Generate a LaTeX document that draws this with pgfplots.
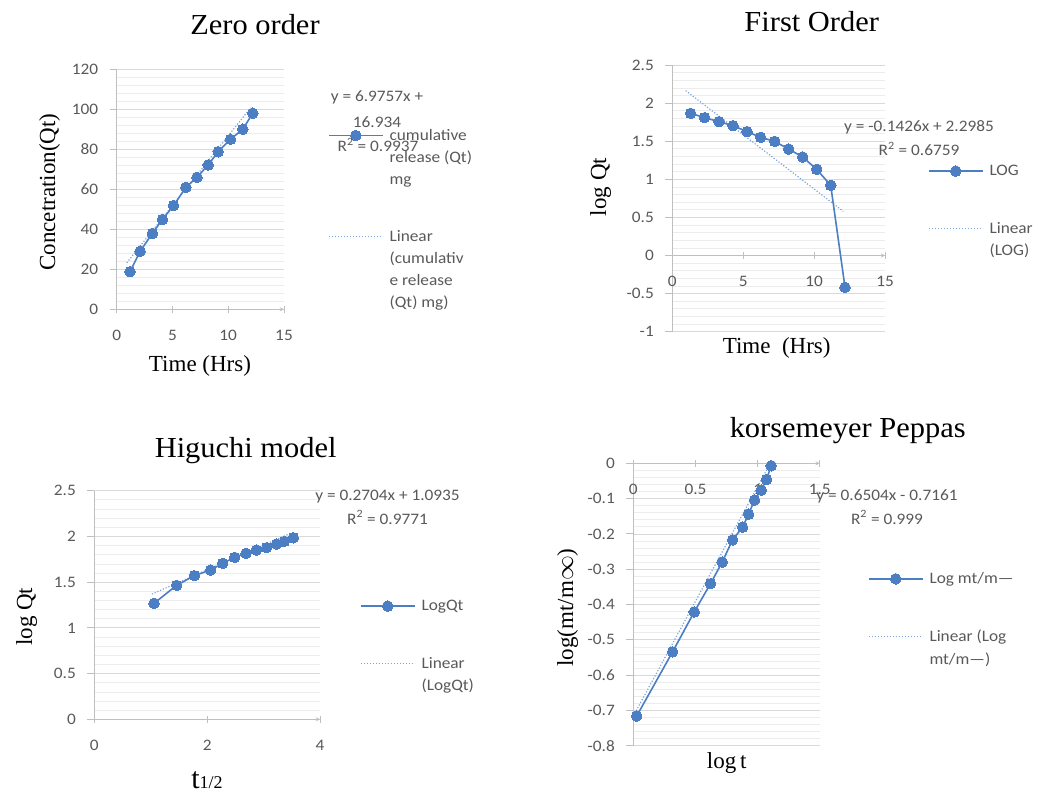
\documentclass[border=0pt]{standalone}
\usepackage{pgfplots}
\pgfplotsset{compat=1.18}
\usepackage{fontspec}
\setmainfont{Liberation Serif}
\newfontfamily\calfont{Carlito}[FakeStretch=1.08]
\newfontfamily\titlefont{Liberation Serif}[FakeStretch=1.05]
\definecolor{sercol}{RGB}{76,126,196}
\definecolor{trendcol}{RGB}{125,165,220}
\definecolor{tickgray}{RGB}{89,89,89}
\definecolor{axisgray}{RGB}{191,191,191}
\definecolor{gridmaj}{RGB}{217,217,217}
\definecolor{gridmin}{RGB}{236,236,236}
\newcommand{\tickfont}{\calfont\fontsize{16}{18}\selectfont}
\newcommand{\ls}{\rule[-4pt]{0pt}{15pt}}
\newcommand{\gap}{\rule{0pt}{25.5pt}}
\tikzset{
  serstyle/.style={draw=sercol, line width=1.6pt, mark=*, mark size=5.3pt,
     mark options={fill=sercol, draw=sercol, line width=0pt, solid}},
  trendstyle/.style={draw=trendcol, line width=1.2pt, dash pattern=on 1.2pt off 1.8pt, mark=none},
}
\pgfplotsset{
 excel/.style={
  scale only axis, clip=false,
  axis y line=left,
  axis line style={draw=axisgray, line width=0.9pt, -},
  ymajorgrids, yminorgrids, minor y tick num=4,
  major grid style={draw=gridmaj, line width=0.8pt},
  minor grid style={draw=gridmin, line width=0.7pt},
  tick align=outside, major tick length=7pt, minor tick length=0pt,
  tick style={draw=axisgray, line width=0.9pt},
  tick label style={font=\tickfont, text=tickgray},
  xticklabel style={yshift=-14pt},
  yticklabel style={xshift=-8pt},
  /pgf/number format/assume math mode=true,
  hide obscured x ticks=false, hide obscured y ticks=false,
  legend style={draw=none, fill=none, inner sep=0pt, outer sep=0pt, anchor=north west,
     font=\tickfont, text=tickgray, row sep=9pt, column sep=6pt,
     nodes={inner sep=0pt, outer sep=0pt}},
  legend cell align=left,
  legend image code/.code={\draw[mark repeat=2,mark phase=2,##1] plot coordinates {(0pt,0pt)(27pt,0pt)(54pt,0pt)};},
 },
}
\begin{document}
\begin{tikzpicture}
\path[use as bounding box] (0,0) rectangle (1038pt,796pt);
% ---------------- Zero order
\begin{axis}[excel, at={(116.7pt,486.7pt)}, anchor=south west,
  width=167.3pt, height=240.3pt,
  axis x line=bottom,
  xmin=0, xmax=15, ymin=0, ymax=120,
  xtick={0,5,10,15}, ytick={0,20,40,60,80,100,120},
  legend style={at={(1.263,0.7495)}}]
\addplot[trendstyle, forget plot] coordinates {(0.9,23.2) (12.0,100.6)};
\addplot[serstyle, forget plot] coordinates {(1.2,18.8)(2.1,29.0)(3.2,37.9)(4.1,44.9)(5.1,51.8)(6.2,60.9)(7.2,65.9)(8.2,72.1)(9.1,78.7)(10.2,84.9)(11.3,89.9)(12.2,97.9)};
\addlegendimage{serstyle}\addlegendentry{\ls cumulative}
\addlegendimage{empty legend}\addlegendentry{\ls release (Qt)}
\addlegendimage{empty legend}\addlegendentry{\ls mg}
\addlegendimage{empty legend}\addlegendentry{\gap}
\addlegendimage{trendstyle}\addlegendentry{\ls Linear}
\addlegendimage{empty legend}\addlegendentry{\ls (cumulativ}
\addlegendimage{empty legend}\addlegendentry{\ls e release}
\addlegendimage{empty legend}\addlegendentry{\ls (Qt) mg)}
\end{axis}
% ---------------- First order
\begin{axis}[excel, at={(672.3pt,464.3pt)}, anchor=south west,
  width=212.7pt, height=266.7pt,
  axis x line=middle,
  xmin=0, xmax=15, ymin=-1, ymax=2.5,
  xtick={0,5,10,15}, ytick={-1,-0.5,0,0.5,1,1.5,2,2.5},
  yticklabels={-1,-0.5,0,0.5,1,1.5,2,2.5},
  legend style={at={(1.202,0.6258)}}]
\addplot[trendstyle, forget plot] coordinates {(0.94,2.164) (12.06,0.579)};
\addplot[serstyle, forget plot] coordinates {(1.29,1.866)(2.28,1.809)(3.29,1.756)(4.28,1.704)(5.27,1.625)(6.23,1.551)(7.22,1.498)(8.2,1.397)(9.19,1.293)(10.18,1.131)(11.17,0.921)(12.18,-0.418)};
\addlegendimage{serstyle}\addlegendentry{\ls LOG}
\addlegendimage{empty legend}\addlegendentry{\gap}
\addlegendimage{trendstyle}\addlegendentry{\ls Linear}
\addlegendimage{empty legend}\addlegendentry{\ls (LOG)}
\end{axis}
% ---------------- Higuchi
\begin{axis}[excel, at={(94.3pt,76.7pt)}, anchor=south west,
  width=225.7pt, height=228.6pt,
  axis x line=bottom,
  xmin=0, xmax=4, ymin=0, ymax=2.5,
  xtick={0,2,4}, ytick={0,0.5,1,1.5,2,2.5},
  yticklabels={0,0.5,1,1.5,2,2.5},
  legend style={at={(1.177,0.5227)}}]
\addplot[trendstyle, forget plot] coordinates {(1.02,1.369) (3.46,2.029)};
\addplot[serstyle, forget plot] coordinates {(1.058,1.268)(1.459,1.465)(1.773,1.571)(2.062,1.633)(2.275,1.706)(2.487,1.771)(2.688,1.815)(2.871,1.851)(3.054,1.877)(3.232,1.917)(3.368,1.946)(3.527,1.986)};
\addlegendimage{serstyle}\addlegendentry{\ls LogQt}
\addlegendimage{empty legend}\addlegendentry{\gap}
\addlegendimage{trendstyle}\addlegendentry{\ls Linear}
\addlegendimage{empty legend}\addlegendentry{\ls (LogQt)}
\end{axis}
% ---------------- Korsmeyer Peppas
\begin{axis}[excel, at={(633.3pt,50.3pt)}, anchor=south west,
  width=186.5pt, height=282.4pt,
  axis x line=middle,
  xmin=0, xmax=1.5, ymin=-0.8, ymax=0,
  xtick={0,0.5,1,1.5}, xticklabels={0,0.5,1,1.5},
  ytick={-0.8,-0.7,-0.6,-0.5,-0.4,-0.3,-0.2,-0.1,0},
  yticklabels={-0.8,-0.7,-0.6,-0.5,-0.4,-0.3,-0.2,-0.1,0},
  legend style={at={(1.258,0.6133)}}]
\addplot[trendstyle, forget plot] coordinates {(0.0,-0.716) (1.079,-0.0143)};
\addplot[serstyle, forget plot] coordinates {(0.027,-0.716)(0.316,-0.534)(0.49,-0.421)(0.621,-0.341)(0.715,-0.280)(0.798,-0.217)(0.879,-0.181)(0.927,-0.144)(0.975,-0.104)(1.029,-0.076)(1.071,-0.046)(1.109,-0.007)};
\addlegendimage{serstyle}\addlegendentry{\ls Log mt/m—}
\addlegendimage{empty legend}\addlegendentry{\gap}
\addlegendimage{trendstyle}\addlegendentry{\ls Linear (Log}
\addlegendimage{empty legend}\addlegendentry{\ls mt/m—)}
\end{axis}
% ---------------- texts (pixel coordinates, y downwards)
\begin{scope}[x=1pt, y=-1pt, shift={(0pt,796pt)}]
\tikzset{ttl/.style={anchor=base, inner sep=0pt, font=\titlefont\fontsize{29}{30}\selectfont},
         lab/.style={anchor=base, inner sep=0pt, font=\fontsize{23}{24}\selectfont},
         eq/.style={anchor=base, inner sep=0pt, font=\tickfont, text=tickgray}}
\node[ttl] at (255,35) {Zero order};
\node[ttl] at (811.7,32) {First Order};
\node[ttl] at (245.7,458) {Higuchi model};
\node[ttl] at (847.7,437) {korsemeyer Peppas};
\node[lab] at (200,372) {Time (Hrs)};
\node[lab, rotate=90] at (55,192) {Concetration(Qt)};
\node[lab] at (776.7,354) {Time\ \ (Hrs)};
\node[lab, rotate=90] at (606,187) {log Qt};
\node[lab, rotate=90] at (32,616.7) {log Qt};
\node[anchor=base, inner sep=0pt] at (207,788) {\fontsize{30}{30}\selectfont t\fontsize{18}{18}\selectfont 1/2};
\node[lab] at (726.7,768) {log\,t};
\node[lab, rotate=90] at (573,607.5) {log(mt/m$\infty$)};
\node[eq] at (377,102) {y = 6.9757x +};
\node[eq] at (377,128) {16.934};
\node[eq] at (378,152) {R\textsuperscript{2} = 0.9937};
\node[eq] at (919,132) {y = -0.1426x + 2.2985};
\node[eq] at (919,156) {R\textsuperscript{2} = 0.6759};
\node[eq] at (387.5,500) {y = 0.2704x + 1.0935};
\node[eq] at (387.5,524) {R\textsuperscript{2} = 0.9771};
\node[eq] at (887,500) {y = 0.6504x - 0.7161};
\node[eq] at (887,524) {R\textsuperscript{2} = 0.999};
\end{scope}
\end{tikzpicture}
\end{document}
